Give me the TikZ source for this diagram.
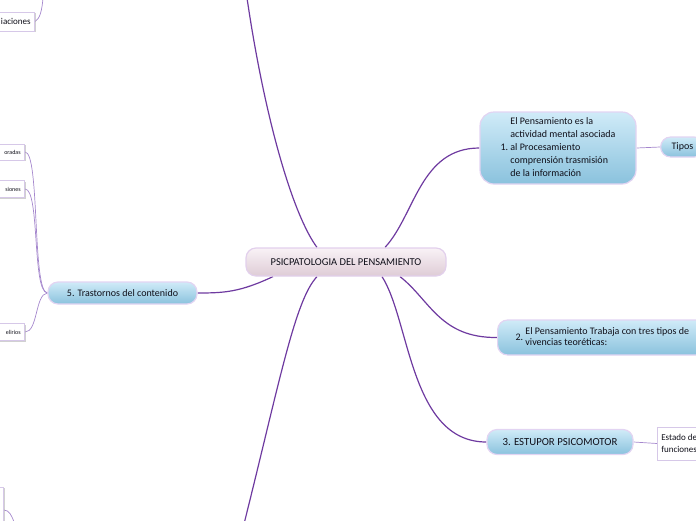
\documentclass[tikz,border=0pt]{standalone}
\usepackage{fontspec}
\setmainfont{Carlito}
\usetikzlibrary{positioning,shadows,backgrounds}
\definecolor{rootTop}{RGB}{249,242,246}
\definecolor{rootBot}{RGB}{222,204,214}
\definecolor{rootEdge}{RGB}{226,208,236}
\definecolor{blueTop}{RGB}{208,235,248}
\definecolor{blueBot}{RGB}{138,194,221}
\definecolor{blueEdge}{RGB}{226,212,242}
\definecolor{leafEdge}{RGB}{214,200,232}
\definecolor{connPurple}{RGB}{110,58,160}
\definecolor{subPurple}{RGB}{165,135,205}
\definecolor{ink}{RGB}{15,15,25}

\begin{document}
\begin{tikzpicture}[x=1pt,y=-1pt,text=ink,
  root/.style={draw=rootEdge,line width=1.2pt,rounded corners=10pt,top color=rootTop,bottom color=rootBot,
    minimum width=200pt,minimum height=28pt,font=\fontsize{10.5}{12}\selectfont},
  topic/.style={draw=blueEdge,line width=1.2pt,rounded corners=10pt,top color=blueTop,bottom color=blueBot,
    font=\fontsize{10}{12}\selectfont},
  leaf/.style={draw=leafEdge,fill=white,line width=0.6pt,inner xsep=4pt,
    drop shadow={shadow xshift=1pt,shadow yshift=-1.2pt,fill=black!30,opacity=0.6}},
  conn/.style={draw=connPurple,line width=1.2pt},
  subconn/.style={draw=subPurple,line width=0.7pt}]
\useasboundingbox (0,0) rectangle (696,520);
% central topic
\node[root] (root) at (346,262) {PSICPATOLOGIA DEL PENSAMIENTO};
% main topics on the right
\node[topic,rounded corners=14pt,minimum width=156pt,minimum height=72pt,font=\fontsize{10}{13}\selectfont] (think) at (558,148)
  {1.\ \begin{tabular}[c]{@{}l@{}}El Pensamiento es la\\actividad mental asociada\\al Procesamiento\\comprensión trasmisión\\de la información\end{tabular}};
\node[topic,anchor=west,inner xsep=11pt,minimum height=20pt] (kinds) at (660,147) {Tipos};
\node[topic,anchor=west,inner xsep=18pt,minimum height=35pt,font=\fontsize{10}{11.5}\selectfont] (work) at (497,337.5)
  {2.\ \begin{tabular}[c]{@{}l@{}}El Pensamiento Trabaja con tres tipos de\\vivencias teoréticas:\end{tabular}};
\node[topic,minimum width=146pt,minimum height=25pt,font=\fontsize{10.8}{12}\selectfont] (stupor) at (560,442) {3. ESTUPOR PSICOMOTOR};
\node[leaf,anchor=west,align=left,minimum height=33pt,font=\fontsize{9}{12.5}\selectfont] (state) at (657,443.5) {Estado de\\funciones};
% main topic on the left
\node[topic,minimum width=149pt,minimum height=22pt] (content) at (122.5,293) {5. Trastornos del contenido};
% leaves cut by the left edge
\node[leaf,anchor=east,text width=60pt,align=right,minimum height=19pt,font=\fontsize{9}{10}\selectfont] (assoc) at (35,21.5) {iaciones};
\node[leaf,anchor=east,text width=40pt,align=right,minimum height=16pt,font=\fontsize{6}{8}\selectfont] (over) at (25,152) {oradas};
\node[leaf,anchor=east,text width=40pt,align=right,minimum height=17pt,font=\fontsize{6}{8}\selectfont] (obses) at (25,189) {siones};
\node[leaf,anchor=east,text width=40pt,align=right,minimum height=17pt,font=\fontsize{6}{8}\selectfont] (delus) at (25,332) {elirios};
\node[leaf,anchor=east,minimum width=30pt,minimum height=40pt] (lowleaf) at (4,507) {};
\coordinate (topEnd) at (247,-2);
\coordinate (lowEnd) at (244,524);
\coordinate (assocEnd) at (43,-2);
\coordinate (lowleafEnd) at (14,522);
\begin{scope}[on background layer]
% branches from the centre
\draw[conn] ([xshift=-29pt]root.north) .. controls (293,215) and (265,120) .. (topEnd);
\draw[conn] ([xshift=-29pt]root.south) .. controls (295,300) and (280,380) .. (lowEnd);
\draw[conn] ([xshift=39pt]root.north) .. controls (415,215) and (420,148) .. (think.west);
\draw[conn] ([xshift=54pt]root.south) .. controls (430,300) and (440,338) .. (work.west);
\draw[conn] ([xshift=36pt]root.south) .. controls (410,320) and (410,442) .. (stupor.west);
\draw[conn] ([xshift=-73pt]root.south) .. controls (240,292) and (225,293) .. (content.east);
% thin links to the leaves
\draw[subconn] (think.east) -- (kinds.west);
\draw[subconn] (stupor.east) -- (state.west);
\draw[subconn] (content.west) .. controls (32,292) and (40,152) .. (over.east);
\draw[subconn] (content.west) .. controls (32,292) and (40,189) .. (obses.east);
\draw[subconn] (content.west) .. controls (35,294) and (38,332) .. (delus.east);
\draw[subconn] (assoc.east) .. controls (40,19) and (42,10) .. (assocEnd);
\draw[subconn] ([yshift=-3pt]lowleaf.east) .. controls (9,510) and (12,516) .. (lowleafEnd);
\end{scope}
\end{tikzpicture}
\end{document}
